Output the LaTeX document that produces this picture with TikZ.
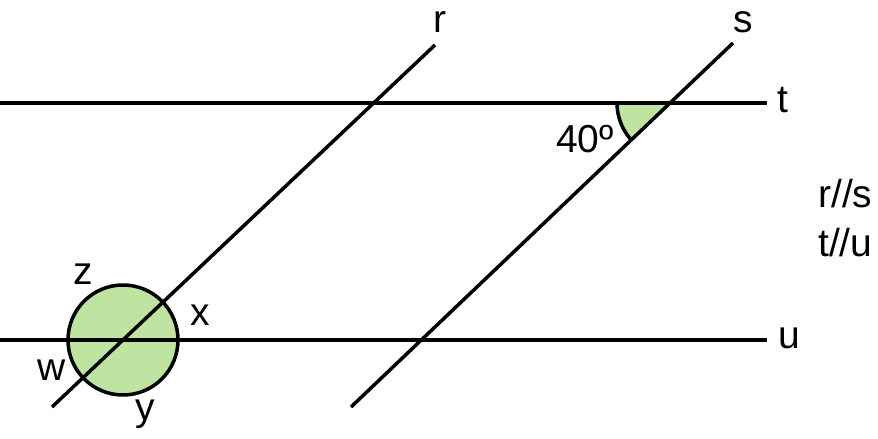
\documentclass[tikz,border=0pt]{standalone}
\usepackage{fontspec}
\setmainfont{Liberation Sans}
\definecolor{lgreen}{RGB}{191,227,160}
\begin{document}
\begin{tikzpicture}[x=1pt,y=1pt,
  ln/.style={line width=3.5pt,black},
  lbl/.style={inner sep=0pt,font=\fontsize{39}{47}\selectfont}]
\useasboundingbox (0,0) rectangle (878,439);
% coordinates
\coordinate (tL) at (0,336);
\coordinate (tR) at (767,336);
\coordinate (uL) at (0,99);
\coordinate (uR) at (767,99);
\coordinate (rB) at (52,32);
\coordinate (rT) at (435,394);
\coordinate (sB) at (351,32);
\coordinate (sT) at (733,396);
\coordinate (C) at (123,99);
\coordinate (P) at (672,336);
% angle wedge
\fill[lgreen] (P) -- ++(180:55) arc[start angle=180,end angle=223.5,radius=55] -- cycle;
\draw[ln] (P) ++(180:55) arc[start angle=180,end angle=223.5,radius=55];
% circle
\node[circle,draw,line width=3.5pt,fill=lgreen,minimum size=110pt,inner sep=0pt] (circ) at (C) {};
% lines
\draw[ln] (tL) -- (tR);
\draw[ln] (uL) -- (uR);
\draw[ln] (rB) -- (rT);
\draw[ln] (sB) -- (sT);
% labels
\node[lbl] (lr) at (440,417) {r};
\node[lbl] (ls) at (743,417) {s};
\node[lbl] (lt) at (783,339) {t};
\node[lbl] (lu) at (789,101) {u};
\node[lbl,anchor=west] (lrs) at (818,245) {r//s};
\node[lbl,anchor=west] (ltu) at (818,196) {t//u};
\node[lbl] (l40) at (585,300) {40º};
\node[lbl] (lz) at (83,165) {z};
\node[lbl] (lx) at (200,124) {x};
\node[lbl] (lw) at (52,69) {w};
\node[lbl] (ly) at (145,25) {y};
\end{tikzpicture}
\end{document}
